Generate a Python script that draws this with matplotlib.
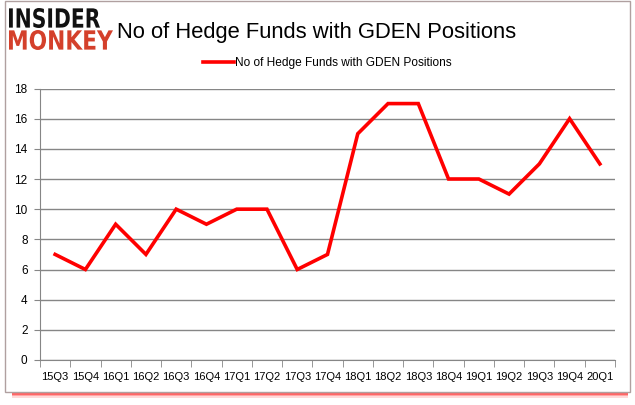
import matplotlib
matplotlib.use("Agg")
import matplotlib.pyplot as plt
from matplotlib.patches import Rectangle, PathPatch
from matplotlib.textpath import TextPath
from matplotlib.font_manager import FontProperties
from matplotlib.transforms import Affine2D, IdentityTransform

plt.rcParams['font.family'] = ['Liberation Sans', 'DejaVu Sans']

quarters = ['15Q3', '15Q4', '16Q1', '16Q2', '16Q3', '16Q4', '17Q1', '17Q2',
            '17Q3', '17Q4', '18Q1', '18Q2', '18Q3', '18Q4', '19Q1', '19Q2',
            '19Q3', '19Q4', '20Q1']
funds = [7, 6, 9, 7, 10, 9, 10, 10, 6, 7, 15, 17, 17, 12, 12, 11, 13, 16, 13]
series_name = 'No of Hedge Funds with GDEN Positions'
title = 'No of Hedge Funds with GDEN Positions'

W, H = 635, 405
fig = plt.figure(figsize=(W / 100, H / 100), dpi=100)

# chart frame + red shadow (behind the axes)
for i, a in enumerate([0.9, 0.6, 0.35, 0.15]):
    fig.patches.append(Rectangle((12 / W, (H - 393 - i * 1.5) / H), 616 / W, 1.5 / H,
                                 transform=fig.transFigure, facecolor='#ff0000',
                                 edgecolor='none', alpha=a, zorder=-2))
fig.patches.append(Rectangle((5 / W, (H - 392) / H), 625 / W, 391 / H,
                             transform=fig.transFigure, facecolor='white',
                             edgecolor='#b0a0a0', linewidth=1, zorder=-1))

ax = fig.add_axes([40 / W, (H - 360) / H, 575 / W, 271.5 / H])
ax.set_facecolor('none')
x = list(range(len(quarters)))
ax.plot(x, funds, color='#ff0000', linewidth=2.6, label=series_name,
        solid_joinstyle='miter')

ax.set_xlim(-0.5, len(quarters) - 0.5)
ax.set_ylim(0, 18)
ax.set_yticks(range(0, 19, 2))
ax.set_xticks(x)
ax.set_xticklabels(quarters)
ax.set_xticks([i - 0.5 for i in range(len(quarters) + 1)], minor=True)
ax.tick_params(axis='x', which='major', length=0, pad=9, labelsize=8)
ax.tick_params(axis='x', which='minor', length=5, color='#868686', direction='out')
ax.tick_params(axis='y', length=4, color='#868686', pad=5, labelsize=8.5)
ax.grid(axis='y', color='#868686', linewidth=1)
ax.set_axisbelow(True)
for s in ['top', 'right']:
    ax.spines[s].set_visible(False)
for s in ['left', 'bottom']:
    ax.spines[s].set_color('#868686')

fig.text(317 / W, (H - 38) / H, title, ha='center', va='baseline', fontsize=15.8)
ax.legend(loc='center', bbox_to_anchor=(0.5, (H - 63 - (H - 360)) / 271.5),
          frameon=False, fontsize=8.6, handlelength=2.6, handletextpad=0.1)

# logo drawn as stretched text paths in pixel coords
def logo_word(word, x0, y0, x1, y1, color):
    tp = TextPath((0, 0), word, size=1, prop=FontProperties(family='DejaVu Sans', weight='bold'))
    ext = tp.get_extents()
    tr = (Affine2D().translate(-ext.x0, -ext.y0)
          .scale((x1 - x0) / ext.width, (y1 - y0) / ext.height)
          .translate(x0, H - y1))
    fig.patches.append(PathPatch(tr.transform_path(tp), facecolor=color,
                                 edgecolor='none', transform=IdentityTransform()))

logo_word('INSIDER', 9, 8, 100, 28, '#111111')
logo_word('MONKEY', 9, 30, 113, 50, '#d4402b')

fig.savefig('out.png', dpi=100)
